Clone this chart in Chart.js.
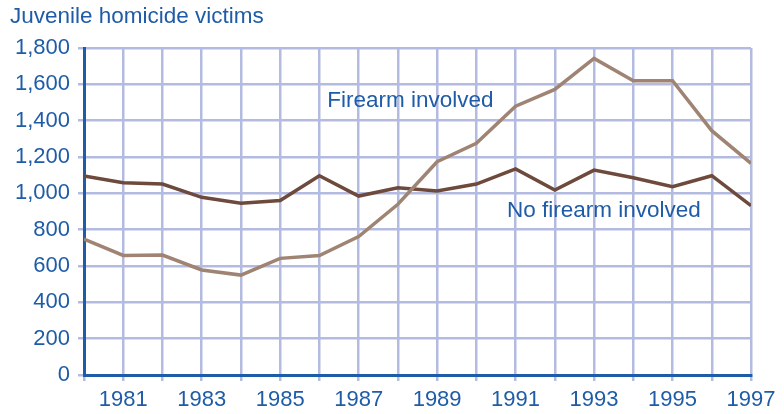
<!DOCTYPE html>
<html>
<head>
<meta charset="utf-8">
<script src="https://cdn.jsdelivr.net/npm/chart.js@4"></script>
<style>
  body { margin: 0; background: #fff; }
  #wrap { width: 784px; height: 414px; }
</style>
</head>
<body>
<div id="wrap"><canvas id="homChart"></canvas></div>
<script>
const years = [1980, 1981, 1982, 1983, 1984, 1985, 1986, 1987, 1988,
               1989, 1990, 1991, 1992, 1993, 1994, 1995, 1996, 1997];
const firearm = [748, 658, 660, 578, 550, 642, 658, 762, 940,
                 1174, 1275, 1480, 1572, 1743, 1620, 1620, 1345, 1165];
const noFirearm = [1095, 1058, 1051, 978, 945, 960, 1097, 985, 1031,
                   1013, 1051, 1134, 1018, 1128, 1086, 1036, 1097, 932];
const yTicks = [0, 200, 400, 600, 800, 1000, 1200, 1400, 1600, 1800];

const blue = '#1f5ca8';
const gridCol = '#b3bce0';
const font = 'Liberation Sans, Arial, sans-serif';

// title and the two line labels
const textPlugin = {
  id: 'texts',
  afterDraw(chart) {
    const ctx = chart.ctx;
    const xs = chart.scales.x, ys = chart.scales.y;
    ctx.save();
    ctx.fillStyle = blue;
    ctx.textBaseline = 'middle';
    ctx.textAlign = 'left';
    ctx.font = '22.5px ' + font;
    ctx.fillText('Juvenile homicide victims', 10, 17);
    ctx.fillText('Firearm involved', xs.getPixelForValue(1986.2), ys.getPixelForValue(1508));
    ctx.fillText('No firearm involved', xs.getPixelForValue(1990.78), ys.getPixelForValue(903));
    ctx.restore();
  }
};

const canvas = document.getElementById('homChart');
new Chart(canvas, {
  type: 'line',
  data: {
    datasets: [{
      label: 'Firearm involved',
      data: years.map((y, i) => ({ x: y, y: firearm[i] })),
      borderColor: '#9f8474',
      borderWidth: 3.5,
      pointRadius: 0,
      tension: 0
    }, {
      label: 'No firearm involved',
      data: years.map((y, i) => ({ x: y, y: noFirearm[i] })),
      borderColor: '#6d4a3b',
      borderWidth: 3.5,
      pointRadius: 0,
      tension: 0
    }]
  },
  options: {
    responsive: true,
    maintainAspectRatio: false,
    animation: false,
    layout: { padding: { top: 48, right: 33, left: 0, bottom: 0 } },
    plugins: {
      legend: { display: false },
      tooltip: { enabled: false }
    },
    scales: {
      x: {
        type: 'linear',
        min: 1980,
        max: 1997,
        afterFit: s => { s.height = 39; },
        afterBuildTicks: s => { s.ticks = years.map(v => ({ value: v })); },
        ticks: {
          autoSkip: false,
          maxRotation: 0,
          color: blue,
          padding: 6,
          font: { size: 22, family: font },
          callback: v => (v % 2 ? String(v) : '')
        },
        grid: { color: gridCol, lineWidth: 2.5, tickLength: 6 },
        border: { color: blue, width: 3 }
      },
      y: {
        min: 0,
        max: 1800,
        afterFit: s => { s.width = 84; },
        afterBuildTicks: s => { s.ticks = yTicks.map(v => ({ value: v })); },
        ticks: {
          color: blue,
          padding: 8,
          font: { size: 22, family: font },
          callback: v => v.toLocaleString('en-US')
        },
        grid: { color: gridCol, lineWidth: 2.5, tickLength: 6 },
        border: { color: blue, width: 3 }
      }
    }
  },
  plugins: [textPlugin]
});
</script>
</body>
</html>
